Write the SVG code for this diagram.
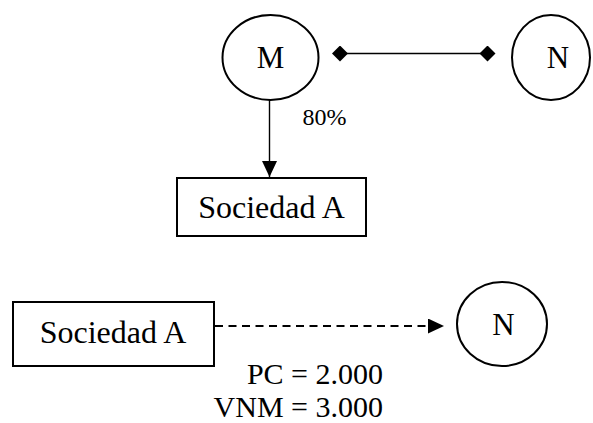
<svg xmlns="http://www.w3.org/2000/svg" width="593" height="423" viewBox="0 0 593 423">
  <style>
    .shape { fill: #ffffff; stroke: #000000; stroke-width: 2; }
    .label { font-family: "Liberation Serif", "Times New Roman", serif; font-size: 32px; fill: #000000; }
    .letter { font-size: 31px; }
    .value { font-size: 30px; }
    .small { font-size: 24px; }
    .link { fill: none; stroke: #000000; stroke-width: 1.4; }
    .dash { fill: none; stroke: #000000; stroke-width: 2; stroke-dasharray: 8 5.5; }
  </style>
  <defs>
    <marker id="diamond" viewBox="0 0 10 10" refX="5" refY="5" markerWidth="16" markerHeight="16" markerUnits="userSpaceOnUse" orient="auto">
      <path d="M0,5 L5,0 L10,5 L5,10 Z" fill="#000000"/>
    </marker>
    <marker id="arrow" viewBox="0 0 10 10" refX="10" refY="5" markerWidth="16" markerHeight="15" markerUnits="userSpaceOnUse" orient="auto" preserveAspectRatio="none">
      <path d="M0,0 L10,5 L0,10 Z" fill="#000000"/>
    </marker>
  </defs>

  <g id="connectors">
    <line class="link" x1="340" y1="53.5" x2="487.5" y2="53.5" marker-start="url(#diamond)" marker-end="url(#diamond)"/>
    <line class="link" x1="269.5" y1="100" x2="269.5" y2="177" marker-end="url(#arrow)"/>
    <line class="dash" x1="215" y1="326" x2="444" y2="326" marker-end="url(#arrow)"/>
  </g>

  <g id="node-m">
    <ellipse class="shape" cx="270.5" cy="57.5" rx="48" ry="42.5"/>
    <text class="label letter" x="270.5" y="68" text-anchor="middle">M</text>
  </g>

  <g id="node-n-top">
    <ellipse class="shape" cx="551" cy="57.5" rx="39" ry="42.5"/>
    <text class="label letter" x="558" y="68" text-anchor="middle">N</text>
  </g>

  <g id="label-80">
    <text class="label small" x="302.5" y="125">80%</text>
  </g>

  <g id="node-sociedad-top">
    <rect class="shape" x="177" y="178" width="189" height="58"/>
    <text class="label" x="271.5" y="218" text-anchor="middle">Sociedad A</text>
  </g>

  <g id="node-sociedad-bottom">
    <rect class="shape" x="13" y="302" width="201" height="64"/>
    <text class="label" x="113" y="343" text-anchor="middle">Sociedad A</text>
  </g>

  <g id="node-n-bottom">
    <ellipse class="shape" cx="502" cy="324" rx="45" ry="42"/>
    <text class="label letter" x="503.5" y="335" text-anchor="middle">N</text>
  </g>

  <g id="values">
    <text class="label value" x="383" y="383.5" text-anchor="end">PC = 2.000</text>
    <text class="label value" x="383" y="417" text-anchor="end">VNM = 3.000</text>
  </g>
</svg>
